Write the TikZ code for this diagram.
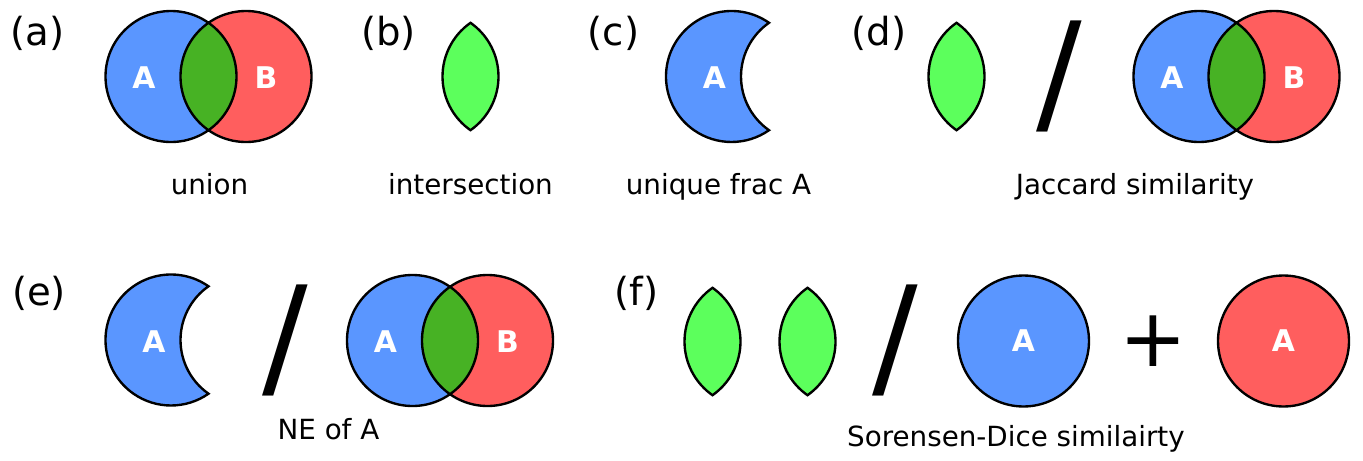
\documentclass[tikz,border=0pt]{standalone}
\usepackage{fontspec}
\setmainfont{DejaVu Sans}
\usepackage{tikz}
\definecolor{setblue}{RGB}{90,150,255}
\definecolor{setred}{RGB}{255,94,94}
\definecolor{overlapgreen}{RGB}{71,178,36}
\definecolor{lensgreen}{RGB}{92,255,92}
\tikzset{
    rim/.style = {draw=black, line width=1.35pt},
    tag/.style = {anchor=base, font=\fontsize{22}{26}\selectfont},
    caption/.style = {anchor=base, font=\fontsize{15.8}{18}\selectfont},
    setlabel/.style = {text=white, font=\fontsize{17}{20}\selectfont\bfseries},
    operator/.style = {inner sep=0pt},
    wholeset/.style = {circle, rim, minimum size=2.62cm, inner sep=0pt, setlabel},
    lens/.pic = {
        \path[rim, fill=lensgreen] (0,-53.7) arc[start angle=235.07, end angle=124.93, radius=65.5]
            arc[start angle=55.07, end angle=-55.07, radius=65.5] -- cycle;
    },
    crescent/.pic = {
        \path[rim, fill=setblue] (37.5,-53.7) arc[start angle=304.93, end angle=55.07, radius=65.5]
            arc[start angle=124.93, end angle=235.07, radius=65.5] -- cycle;
        \node[setlabel] (-a) at (-17,1.5) {A};
    },
    venn/.pic = {
        \fill[setblue] (-37.5,0) circle[radius=65.5];
        \fill[setred] (37.5,0) circle[radius=65.5];
        \fill[overlapgreen] (0,-53.7) arc[start angle=235.07, end angle=124.93, radius=65.5]
            arc[start angle=55.07, end angle=-55.07, radius=65.5] -- cycle;
        \draw[rim] (-37.5,0) circle[radius=65.5] (37.5,0) circle[radius=65.5];
        \node[setlabel] (-a) at (-64.5,1) {A};
        \node[setlabel] (-b) at (57.5,1) {B};
    }
}

\begin{document}
\begin{tikzpicture}[x=0.02cm, y=-0.02cm]
    \useasboundingbox (0,0) rectangle (1363,460);

    % top row
    \node [tag] (taga) at (37.5,45) {(a)};
    \pic (union) at (208.5,76.5) {venn};
    \node [caption] (capa) at (209.5,194) {union};

    \node [tag] (tagb) at (388.5,45) {(b)};
    \pic (inter) at (470.5,76.5) {lens};
    \node [caption] (capb) at (470.5,194) {intersection};

    \node [tag] (tagc) at (613.5,45) {(c)};
    \pic (uniq) at (731.5,76.5) {crescent};
    \node [caption] (capc) at (718.5,194) {unique frac A};

    \node [tag] (tagd) at (879,45) {(d)};
    \pic (jacnum) at (956.5,76.5) {lens};
    \node [operator, font=\fontsize{77}{80}\selectfont] (jacdiv) at (1059,76.5) {/};
    \pic (jacden) at (1236.5,76.5) {venn};
    \node [caption] (capd) at (1135,194) {Jaccard similarity};

    % bottom row
    \node [tag] (tage) at (39,305) {(e)};
    \pic (nenum) at (171,340) {crescent};
    \node [operator, font=\fontsize{77}{80}\selectfont] (nediv) at (285,340.5) {/};
    \pic (neden) at (450,340.5) {venn};
    \node [caption] (cape) at (328.5,439) {NE of A};

    \node [tag] (tagf) at (636.5,305) {(f)};
    \pic (dicenum1) at (712.5,341.5) {lens};
    \pic (dicenum2) at (807.5,341.5) {lens};
    \node [operator, font=\fontsize{77}{80}\selectfont] (dicediv) at (895.5,340.5) {/};
    \node [wholeset, fill=setblue] (dicea) at (1023.5,341) {A};
    \node [operator, font=\fontsize{46}{50}\selectfont] (diceplus) at (1153.5,341) {+};
    \node [wholeset, fill=setred] (diceb) at (1283.5,341) {A};
    \node [caption] (capf) at (1016,446) {Sorensen-Dice similairty};
\end{tikzpicture}
\end{document}
